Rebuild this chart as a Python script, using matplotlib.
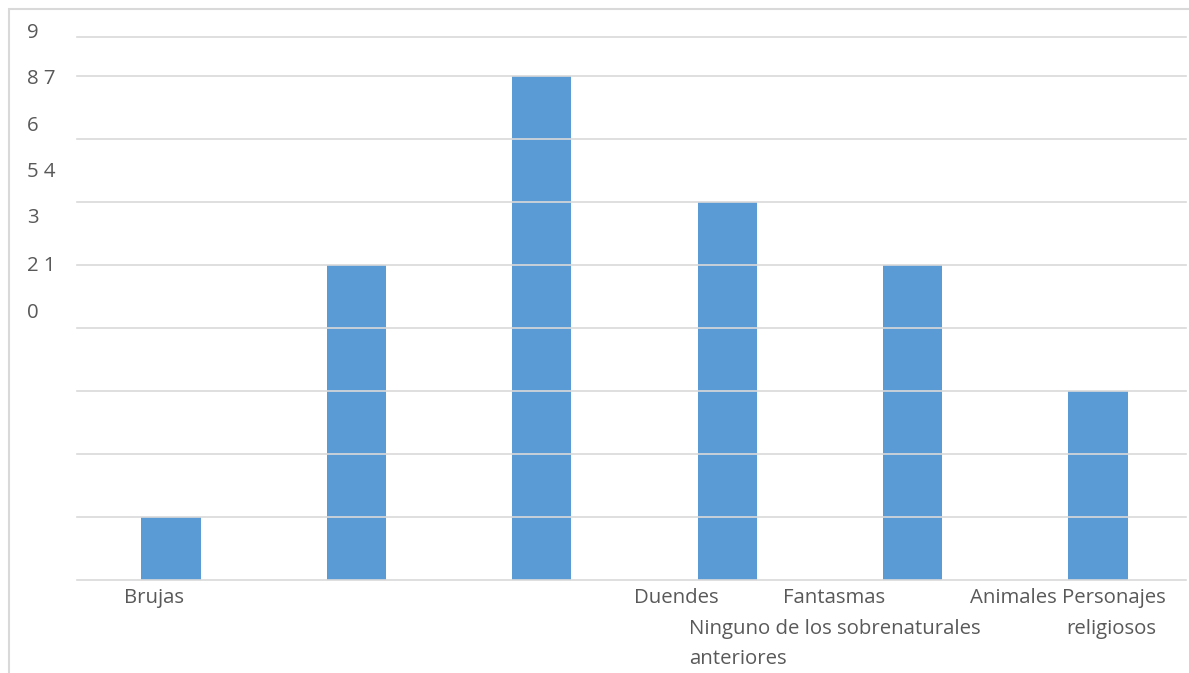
import numpy as np
import matplotlib.pyplot as plt
from matplotlib.patches import Rectangle

# data
categorias = ['Brujas', 'Duendes', 'Ninguno de los anteriores',
              'Fantasmas', 'Animales', 'Personajes religiosos']
valores = [1, 5, 8, 6, 5, 3]

# labels as they appear (garbled extraction)
ylabels = ['9', '8 7', '6', '5 4', '3', '2 1', '0']
ylabel_pos = [33, 79, 126, 172, 218, 266, 313]
xlabels = ['Brujas', 'Duendes', 'Fantasmas', 'Animales Personajes',
           'Ninguno de los sobrenaturales', 'religiosos', 'anteriores']
xlabel_pos = [(124, 598), (634, 598), (783, 598), (970, 598),
              (689, 629), (1066, 629), (689, 659)]

W, H = 1189, 673
plt.rcParams['font.family'] = ['Open Sans', 'DejaVu Sans']

fig = plt.figure(figsize=(W/100, H/100), dpi=100)

def px(x, y):
    return x/W, 1 - y/H

# outer frame
fig.patches.append(Rectangle(px(9, 700), (W+5-9)/W, (700-9)/H,
                             transform=fig.transFigure, fill=False,
                             edgecolor='#D9D9D9', linewidth=1.5))

L, R = 78.3, 1190.7
ax = fig.add_axes([L/W, 1-580/H, (R-L)/W, (580-37)/H])
x = np.arange(len(categorias))
ax.bar(x, valores, width=0.32, color='#5B9BD5', zorder=1)
ax.set_xlim(-0.5, len(categorias)-0.5)
ax.set_ylim(0, 8.62)
gx0 = (77-L)/(R-L)
gx1 = (1186-L)/(R-L)
for v in list(range(0, 9)) + [8.62]:
    ax.axhline(v, gx0, gx1, color='#D9D9D9', linewidth=1.2, zorder=2, clip_on=False)
for s in ax.spines.values():
    s.set_visible(False)
ax.set_xticks([])
ax.set_yticks([])

for t, yy in zip(ylabels, ylabel_pos):
    fig.text(*px(27, yy), t, fontsize=14.7, color='#595959', va='center', ha='left')
for t, (xx, yy) in zip(xlabels, xlabel_pos):
    fig.text(*px(xx, yy), t, fontsize=14.7, color='#595959', va='center', ha='left')

fig.savefig('out.png', dpi=100)
